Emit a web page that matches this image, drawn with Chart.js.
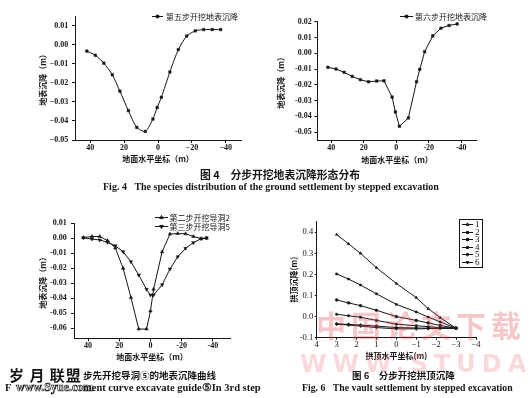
<!DOCTYPE html>
<html><head><meta charset="utf-8">
<script src="https://cdn.jsdelivr.net/npm/chart.js@4"></script>
<style>
html,body{margin:0;padding:0;background:#fff;}
#wrap{position:relative;width:530px;height:398px;overflow:hidden;background:#fff;}
canvas{position:absolute;}
.cap{position:absolute;white-space:nowrap;color:#151515;}
.zh{font-family:"Noto Sans CJK SC",sans-serif;font-weight:700;}
.en{font-family:"Liberation Serif",serif;font-weight:700;}
.wm{position:absolute;white-space:nowrap;pointer-events:none;}
</style></head><body>
<div id="wrap">
<canvas id="c1" width="265" height="170" style="left:0;top:0;width:265px;height:170px"></canvas>
<canvas id="c2" width="265" height="170" style="left:265px;top:0;width:265px;height:170px"></canvas>
<canvas id="c3" width="265" height="175" style="left:0;top:195px;width:265px;height:175px"></canvas>
<canvas id="c4" width="265" height="160" style="left:265px;top:210px;width:265px;height:160px"></canvas>

<div class="cap zh" style="left:200px;top:168px;font-size:10.8px;line-height:13px;">图 4　分步开挖地表沉降形态分布</div>
<div class="cap en" style="left:103px;top:181px;font-size:10px;line-height:12px;">Fig. 4&nbsp;&nbsp;&nbsp;The species distribution of the ground settlement by stepped excavation</div>

<div class="wm zh" style="left:316px;top:306px;font-size:30px;line-height:36px;letter-spacing:5px;color:rgba(225,70,75,0.30);">中国论文下载</div>
<div class="wm" style="left:300px;top:350px;font-family:'DejaVu Sans',sans-serif;font-weight:700;font-size:24px;line-height:28px;letter-spacing:6px;color:rgba(235,120,130,0.28);">WWW.STUDA.</div>

<div class="cap zh" style="left:9px;top:365px;font-size:15px;line-height:19px;letter-spacing:1px;">岁 月 联盟</div>
<div class="cap zh" style="left:83px;top:369px;font-size:9.5px;line-height:12px;">步先开挖导洞⑤的地表沉降曲线</div>
<div class="cap en" style="left:5px;top:382px;font-size:10.5px;line-height:12px;">F</div>
<div class="cap en" style="left:16px;top:380px;font-size:12px;line-height:14px;color:transparent;-webkit-text-stroke:0.7px #222;">www.Syue.com</div>
<div class="cap en" style="left:83px;top:382px;font-size:10.5px;line-height:12px;">ment curve excavate guide⑤In 3rd step</div>

<div class="cap zh" style="left:352px;top:369px;font-size:9.5px;line-height:12px;">图 6　分步开挖拱顶沉降</div>
<div class="cap en" style="left:302px;top:382px;font-size:9.8px;line-height:12px;">Fig. 6&nbsp;&nbsp;&nbsp;The vault settlement by stepped excavation</div>
</div>
<script>
// ---------- Data: Fig.4 left (step 5) ----------
const fig4aX = [42, 37, 32, 27, 22.5, 17.5, 12.5, 7.5, 3, 0.5, -2, -7, -12, -17, -22, -27, -32, -37];
const fig4aY = [-0.0034, -0.0056, -0.0097, -0.0158, -0.0244, -0.0346, -0.0434, -0.0455, -0.0390, -0.0330, -0.0276, -0.0144, -0.0026, 0.0045, 0.0072, 0.0079, 0.0079, 0.0079];
const fig4aLabel = '第五步开挖地表沉降';
const fig4aXTicks = [40, 20, 0, -20, -40];
const fig4aXLabels = ['40', '20', '0', '\u221220', '\u221240'];
const fig4aYTicks = [0.01, 0.00, -0.01, -0.02, -0.03, -0.04, -0.05];
const fig4aYLabels = ['0.01', '0.00', '\u22120.01', '\u22120.02', '\u22120.03', '\u22120.04', '\u22120.05'];

// ---------- Data: Fig.4 right (step 6) ----------
const fig4bX = [42, 37, 32, 27, 22, 17, 12, 7.5, 2.5, 0.5, -2, -7.5, -12.5, -14.5, -17.5, -22.5, -27.5, -32.5, -37.5];
const fig4bY = [-0.0089, -0.0100, -0.0121, -0.0147, -0.0168, -0.0181, -0.0176, -0.0175, -0.0278, -0.0372, -0.0463, -0.0410, -0.0181, -0.0102, 0.0010, 0.0110, 0.0159, 0.0176, 0.0186];
const fig4bLabel = '第六步开挖地表沉降';
const fig4bXTicks = [40, 20, 0, -20, -40];
const fig4bXLabels = ['40', '20', '0', '-20', '-40'];
const fig4bYTicks = [0.02, 0.01, 0.00, -0.01, -0.02, -0.03, -0.04, -0.05];
const fig4bYLabels = ['0.02', '0.01', '0.00', '-0.01', '-0.02', '-0.03', '-0.04', '-0.05'];

// ---------- Data: Fig.5 (guide holes) ----------
const fig5X = [43, 37.5, 32.5, 27.5, 22.5, 17.5, 12.5, 7.5, 2.5, 0, -2, -7.5, -12.5, -17.5, -22.5, -27.5, -32.5, -36];
const fig5Guide2 = [0.0005, 0.0012, 0.0012, -0.0015, -0.0065, -0.0200, -0.0395, -0.0605, -0.0605, -0.0485, -0.0340, -0.0090, 0.0028, 0.0032, 0.0030, 0.0012, -0.0002, 0.0000];
const fig5Guide5 = [0.0003, -0.0005, -0.0011, -0.0027, -0.0050, -0.0090, -0.0156, -0.0245, -0.0340, -0.0378, -0.0378, -0.0310, -0.0205, -0.0123, -0.0067, -0.0029, -0.0003, 0.0003];
const fig5Labels = ['第二步开挖导洞2', '第三步开挖导洞5'];
const fig5XTicks = [40, 20, 0, -20, -40];
const fig5XLabels = ['40', '20', '0', '-20', '-40'];
const fig5YTicks = [0.01, 0.00, -0.01, -0.02, -0.03, -0.04, -0.05, -0.06];
const fig5YLabels = ['0.01', '0.00', '-0.01', '-0.02', '-0.03', '-0.04', '-0.05', '-0.06'];

// ---------- Data: Fig.6 (vault settlement) ----------
const fig6X = [3, 2.4, 1.8, 1, 0, -1, -1.6, -2.2, -3];
const fig6S1 = [0.389, 0.345, 0.300, 0.232, 0.157, 0.090, 0.038, -0.005, -0.055];
const fig6S2 = [0.2025, 0.178, 0.150, 0.108, 0.058, 0.022, -0.002, -0.025, -0.055];
const fig6S3 = [0.079, 0.065, 0.052, 0.030, 0.000, -0.018, -0.030, -0.042, -0.055];
const fig6S4 = [0.011, 0.004, -0.003, -0.018, -0.036, -0.043, -0.048, -0.052, -0.055];
const fig6S5 = [-0.034, -0.037, -0.040, -0.045, -0.052, -0.054, -0.055, -0.055, -0.055];
const fig6S6 = [-0.036, -0.040, -0.045, -0.052, -0.058, -0.058, -0.057, -0.056, -0.055];
const fig6Labels = ['1', '2', '3', '4', '5', '6'];
const fig6XTicks = [4, 3, 2, 1, 0, -1, -2, -3, -4];
const fig6XLabels = ['4', '3', '2', '1', '0', '\u22121', '\u22122', '\u22123', '\u22124'];
const fig6YTicks = [0.4, 0.3, 0.2, 0.1, 0.0, -0.1];
const fig6YLabels = ['0.4', '0.3', '0.2', '0.1', '0.0', '-0.1'];

// ---------- helpers ----------
const INK = '#151515';
const CJK = '"Noto Sans CJK SC", sans-serif';
const SERIF = '"Liberation Serif", serif';

function pts(xs, ys) { return xs.map((x, i) => ({x: x, y: ys[i]})); }

const miniLegend = {
  id: 'miniLegend',
  afterDraw(chart, args, o) {
    if (!o || !o.display) return;
    const ctx = chart.ctx;
    ctx.save();
    ctx.strokeStyle = INK; ctx.fillStyle = INK; ctx.lineWidth = 1;
    if (o.box) { ctx.strokeRect(o.box[0] + 0.5, o.box[1] + 0.5, o.box[2], o.box[3]); }
    chart.data.datasets.forEach((ds, i) => {
      const y = Math.round(o.y + i * (o.rowH || 0)) + 0.5;
      ctx.strokeStyle = INK; ctx.fillStyle = INK; ctx.lineWidth = 1;
      ctx.beginPath(); ctx.moveTo(o.x, y); ctx.lineTo(o.x + o.lineLen, y); ctx.stroke();
      if (Chart.helpers && Chart.helpers.drawPoint) {
        Chart.helpers.drawPoint(ctx, {pointStyle: ds.pointStyle, radius: ds.pointRadius, rotation: ds.pointRotation || 0, borderWidth: 0.5}, o.x + o.lineLen / 2, y);
      } else {
        ctx.fillRect(o.x + o.lineLen / 2 - 1.5, y - 1.5, 3, 3);
      }
      ctx.fillStyle = INK;
      ctx.font = o.font;
      ctx.textBaseline = 'middle'; ctx.textAlign = 'left';
      ctx.fillText(ds.label, o.x + o.lineLen + o.gap, y);
    });
    ctx.restore();
  }
};

function xAxis(c) {
  return {
    type: 'linear', reverse: true, min: c.min, max: c.max,
    afterBuildTicks: s => { s.ticks = c.ticks.map(v => ({value: v})); },
    afterFit: s => { s.height = c.h; },
    ticks: { callback: (v, i) => c.labels[i], font: c.tickFont, color: INK, padding: c.pad, maxRotation: 0, autoSkip: false },
    grid: { display: true, drawOnChartArea: false, drawTicks: true, tickLength: c.tl, color: INK, lineWidth: 1 },
    border: { display: true, color: INK, width: 1 },
    title: { display: true, text: c.title, font: {family: CJK, size: 8, weight: '700', lineHeight: 1.2}, color: INK, padding: 0 }
  };
}
function yAxis(c) {
  return {
    type: 'linear', min: c.min, max: c.max,
    afterBuildTicks: s => { s.ticks = c.ticks.map(v => ({value: v})); },
    afterFit: s => { s.width = c.w; },
    ticks: { callback: (v, i) => c.labels[i], font: c.tickFont, color: INK, padding: c.pad, autoSkip: false },
    grid: { display: true, drawOnChartArea: false, drawTicks: true, tickLength: c.tl, color: INK, lineWidth: 1 },
    border: { display: true, color: INK, width: 1 },
    title: { display: true, text: c.title, font: {family: CJK, size: 8, weight: '700', lineHeight: 1.2}, color: INK, padding: 0 }
  };
}
function ds(label, data, style, r, rot, tension) {
  return { label: label, data: data, borderColor: INK, backgroundColor: INK, borderWidth: 1,
    pointStyle: style, pointRadius: r, pointRotation: rot || 0, pointBackgroundColor: INK, pointBorderColor: INK,
    pointBorderWidth: 0.5, tension: tension || 0, fill: false };
}
function make(id, datasets, pad, xa, ya, leg) {
  return new Chart(document.getElementById(id), {
    type: 'line',
    data: { datasets: datasets },
    options: {
      responsive: false, animation: false, devicePixelRatio: 1,
      layout: { padding: pad },
      plugins: { legend: { display: false }, tooltip: { enabled: false }, miniLegend: leg },
      scales: { x: xa, y: ya }
    },
    plugins: [miniLegend]
  });
}

const tickBold = {family: SERIF, size: 8, weight: '700'};
const tickNorm = {family: SERIF, size: 8.5, weight: '400'};

// Chart 1
make('c1', [ds(fig4aLabel, pts(fig4aX, fig4aY), 'rect', 1.8, 0, 0.25)],
  {left: 38.2, right: 24, top: 16, bottom: 6.7},
  xAxis({min: -49, max: 49, ticks: fig4aXTicks, labels: fig4aXLabels, h: 23.3, tickFont: tickBold, pad: 0.5, tl: 3, title: '地面水平坐标（m）'}),
  yAxis({min: -0.05, max: 0.015, ticks: fig4aYTicks, labels: fig4aYLabels, w: 36.8, tickFont: tickBold, pad: 3.7, tl: 3, title: '地表沉降（m）'}),
  {display: true, x: 152, y: 15.5, lineLen: 11, gap: 3, rowH: 0, font: '8px ' + CJK});

// Chart 2
make('c2', [ds(fig4bLabel, pts(fig4bX, fig4bY), 'rect', 1.8, 0, 0)],
  {left: 11.2, right: 53.3, top: 21.7, bottom: 5.2},
  xAxis({min: -49.5, max: 48.5, ticks: fig4bXTicks, labels: fig4bXLabels, h: 24.8, tickFont: tickBold, pad: 0, tl: 3, title: '地面水平坐标（m）'}),
  yAxis({min: -0.055, max: 0.02, ticks: fig4bYTicks, labels: fig4bYLabels, w: 41.1, tickFont: tickBold, pad: 2.6, tl: 3, title: '地表沉降（m）'}),
  {display: true, x: 135, y: 15.5, lineLen: 13, gap: 2, rowH: 0, font: '8px ' + CJK});

// Chart 3
make('c3', [ds(fig5Labels[0], pts(fig5X, fig5Guide2), 'triangle', 2, 0, 0),
            ds(fig5Labels[1], pts(fig5X, fig5Guide5), 'triangle', 2, 180, 0)],
  {left: 37.9, right: 35, top: 28.3, bottom: 8.2},
  xAxis({min: -51, max: 49, ticks: fig5XTicks, labels: fig5XLabels, h: 23.45, tickFont: tickBold, pad: 0, tl: 3, title: '地面水平坐标（m）'}),
  yAxis({min: -0.0667, max: 0.01, ticks: fig5YTicks, labels: fig5YLabels, w: 36.1, tickFont: tickBold, pad: 4.3, tl: 3, title: '地表沉降（m）'}),
  {display: true, x: 155, y: 22, lineLen: 13, gap: 1.5, rowH: 9, font: '8px ' + CJK});

// Chart 4
make('c4', [ds(fig6Labels[0], pts(fig6X, fig6S1), 'triangle', 1.6, 0, 0),
            ds(fig6Labels[1], pts(fig6X, fig6S2), 'rect', 1.4, 0, 0),
            ds(fig6Labels[2], pts(fig6X, fig6S3), 'circle', 1.4, 0, 0),
            ds(fig6Labels[3], pts(fig6X, fig6S4), 'rect', 1.4, 0, 0),
            ds(fig6Labels[4], pts(fig6X, fig6S5), 'rectRot', 1.6, 0, 0),
            ds(fig6Labels[5], pts(fig6X, fig6S6), 'triangle', 1.6, 180, 0)],
  {left: 24.5, right: 54, top: 11.7, bottom: 9.5},
  xAxis({min: -4, max: 4, ticks: fig6XTicks, labels: fig6XLabels, h: 22.8, tickFont: tickNorm, pad: 0, tl: 2, title: '拱顶水平坐标(m)'}),
  yAxis({min: -0.1, max: 0.45, ticks: fig6YTicks, labels: fig6YLabels, w: 27.2, tickFont: tickNorm, pad: 1.5, tl: 2, title: '拱顶沉降(m)'}),
  {display: true, x: 197, y: 14, lineLen: 11, gap: 2, rowH: 7.6, font: '9px ' + SERIF, box: [194, 9, 23, 48]});
</script>
</body></html>
